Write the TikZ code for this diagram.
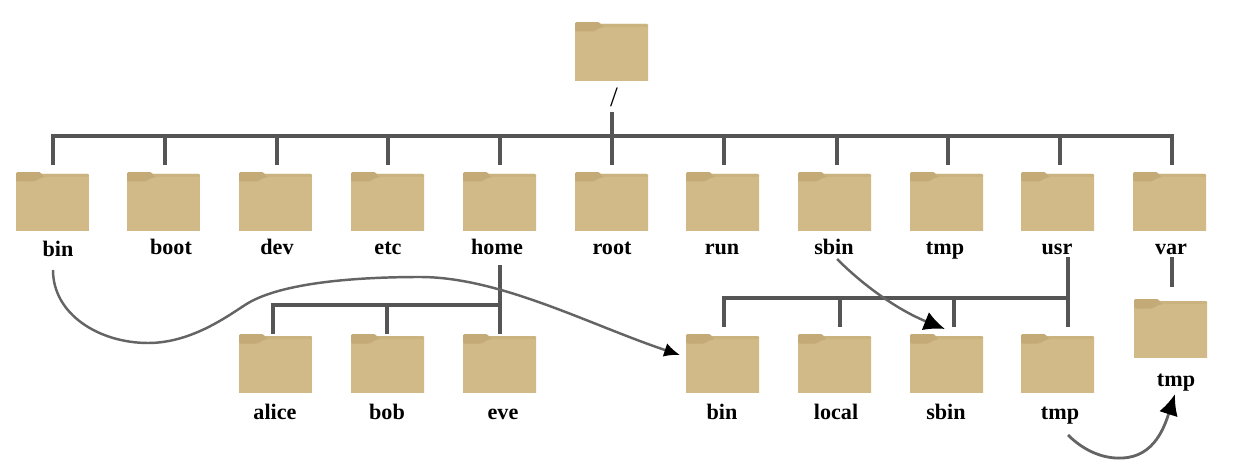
\documentclass[tikz,border=0pt]{standalone}
\usepackage{fontspec}
\setmainfont{Liberation Serif}
\usepackage{xcolor}
\usetikzlibrary{arrows.meta, positioning}

\definecolor{folderbody}{RGB}{209,186,135}
\definecolor{foldertop}{RGB}{203,179,127}
\definecolor{foldertab}{RGB}{195,170,118}
\definecolor{treeline}{RGB}{85,85,85}
\definecolor{linkline}{RGB}{100,100,100}

\begin{document}
\begin{tikzpicture}[
    x=0.02cm,
    y=-0.02cm,
    folder/.style={
      rectangle,
      inner sep=0pt,
      minimum width=1.46cm,
      minimum height=1.18cm,
      path picture={
        \fill[folderbody, rounded corners=0.6pt] (-36.5,-27.5) -- (36.5,-27.5) -- (36.5,40) -- (-36.5,40) -- cycle;
        \fill[foldertop, rounded corners=0.6pt] (-36.5,-27.5) -- (36.5,-27.5) -- (36.5,-24.5) -- (-36.5,-24.5) -- cycle;
        \fill[foldertab, rounded corners=0.8pt] (-36.5,-20) -- (-36.5,-29.5) -- (-12,-29.5) -- (-10,-25.5) -- (-7,-24.5) -- (-12,-23.5) -- (-18,-20) -- cycle;
      }
    },
    foldername/.style={font=\fontsize{12.6}{14}\selectfont\bfseries, inner sep=0pt, anchor=base},
    tree/.style={draw=treeline, line width=1.9pt},
    link/.style={draw=linkline, line width=1.4pt},
    bigtip/.style={-{Latex[length=12pt, width=11pt, color=black]}}
]
\useasboundingbox (0,0) rectangle (1236,469);

% root
\node[folder] (top) at (611.5,51.5) {};
\node[font=\fontsize{16}{18}\selectfont, inner sep=0pt] (slash) at (614,97) {/};
\coordinate (topstem) at (612,112);
\coordinate (topbus) at (612,136);
\draw[tree] (topstem) -- (topbus);

% top row
\foreach \n/\x/\d in {bin/52.5/53, boot/163.5/165, dev/275.5/277, etc/387.5/388, home/499.5/500,
    root/611.5/612, run/722.5/724, sbin/834.5/837, tmp/946.5/948, usr/1057.5/1060, var/1169.5/1172} {
  \node[folder] (\n) at (\x,201.5) {};
  \coordinate (\n top) at (\d,165);
  \draw[tree] (topbus) -| (\n top);
}
\node[foldername] (binname) at (58,256) {bin};
\node[foldername] (bootname) at (171,255) {boot};
\node[foldername] (devname) at (277,255) {dev};
\node[foldername] (etcname) at (388,255) {etc};
\node[foldername] (homename) at (497,255) {home};
\node[foldername] (rootname) at (612,255) {root};
\node[foldername] (runname) at (722,255) {run};
\node[foldername] (sbinname) at (834,255) {sbin};
\node[foldername] (tmpname) at (945,255) {tmp};
\node[foldername] (usrname) at (1057,255) {usr};
\node[foldername] (varname) at (1171,255) {var};

% under home
\foreach \n/\x in {alice/275.5, bob/387.5, eve/499.5} {
  \node[folder] (\n) at (\x,363.5) {};
}
\node[foldername] (alicename) at (275,419) {alice};
\node[foldername] (bobname) at (387,419) {bob};
\node[foldername] (evename) at (503,419) {eve};
\coordinate (homefrom) at (500,265);
\coordinate (homebus) at (500,305);
\coordinate (homeend) at (500,334);
\coordinate (aliceend) at (273,334);
\coordinate (bobend) at (387,334);
\draw[tree] (homefrom) -- (homeend);
\draw[tree] (homebus) -| (aliceend);
\draw[tree] (homebus) -| (bobend);

% under usr
\foreach \n/\x in {usrbin/722.5, local/834.5, usrsbin/946.5, usrtmp/1057.5} {
  \node[folder] (\n) at (\x,363.5) {};
}
\node[foldername] (usrbinname) at (722,419) {bin};
\node[foldername] (localname) at (836,419) {local};
\node[foldername] (usrsbinname) at (946,419) {sbin};
\node[foldername] (usrtmpname) at (1060,419) {tmp};
\coordinate (usrfrom) at (1068,257);
\coordinate (usrbus) at (1068,298);
\coordinate (usrend) at (1068,327);
\coordinate (usrbinend) at (724,327);
\coordinate (localend) at (840,327);
\coordinate (usrsbinend) at (954,327);
\draw[tree] (usrfrom) -- (usrend);
\draw[tree] (usrbus) -| (usrbinend);
\draw[tree] (usrbus) -| (localend);
\draw[tree] (usrbus) -| (usrsbinend);

% under var
\node[folder] (vartmp) at (1170.5,328.5) {};
\node[foldername] (vartmpname) at (1176,386) {tmp};
\coordinate (varfrom) at (1172,257);
\coordinate (varend) at (1172,287);
\draw[tree] (varfrom) -- (varend);

% symlinks
\coordinate (binfrom) at (53,270);
\coordinate (binto) at (680,355);
\coordinate (sbinfrom) at (837,259);
\coordinate (sbinto) at (945,329);
\coordinate (tmpfrom) at (1068,435);
\coordinate (tmpto) at (1175,394);
\draw[link, -{Latex[length=9pt, width=8pt, color=black]}] (binfrom) .. controls (53,315) and (100,343) .. (148,343)
  .. controls (190,343) and (225,318) .. (245,305)
  .. controls (280,282) and (360,277) .. (420,277)
  .. controls (500,277) and (590,325) .. (binto);
\draw[link, bigtip] (sbinfrom) .. controls (870,292) and (905,313) .. (sbinto);
\draw[link, bigtip, line width=1.6pt] (tmpfrom) .. controls (1085,452) and (1105,459) .. (1122,458)
  .. controls (1155,457) and (1165,425) .. (tmpto);
\end{tikzpicture}
\end{document}
